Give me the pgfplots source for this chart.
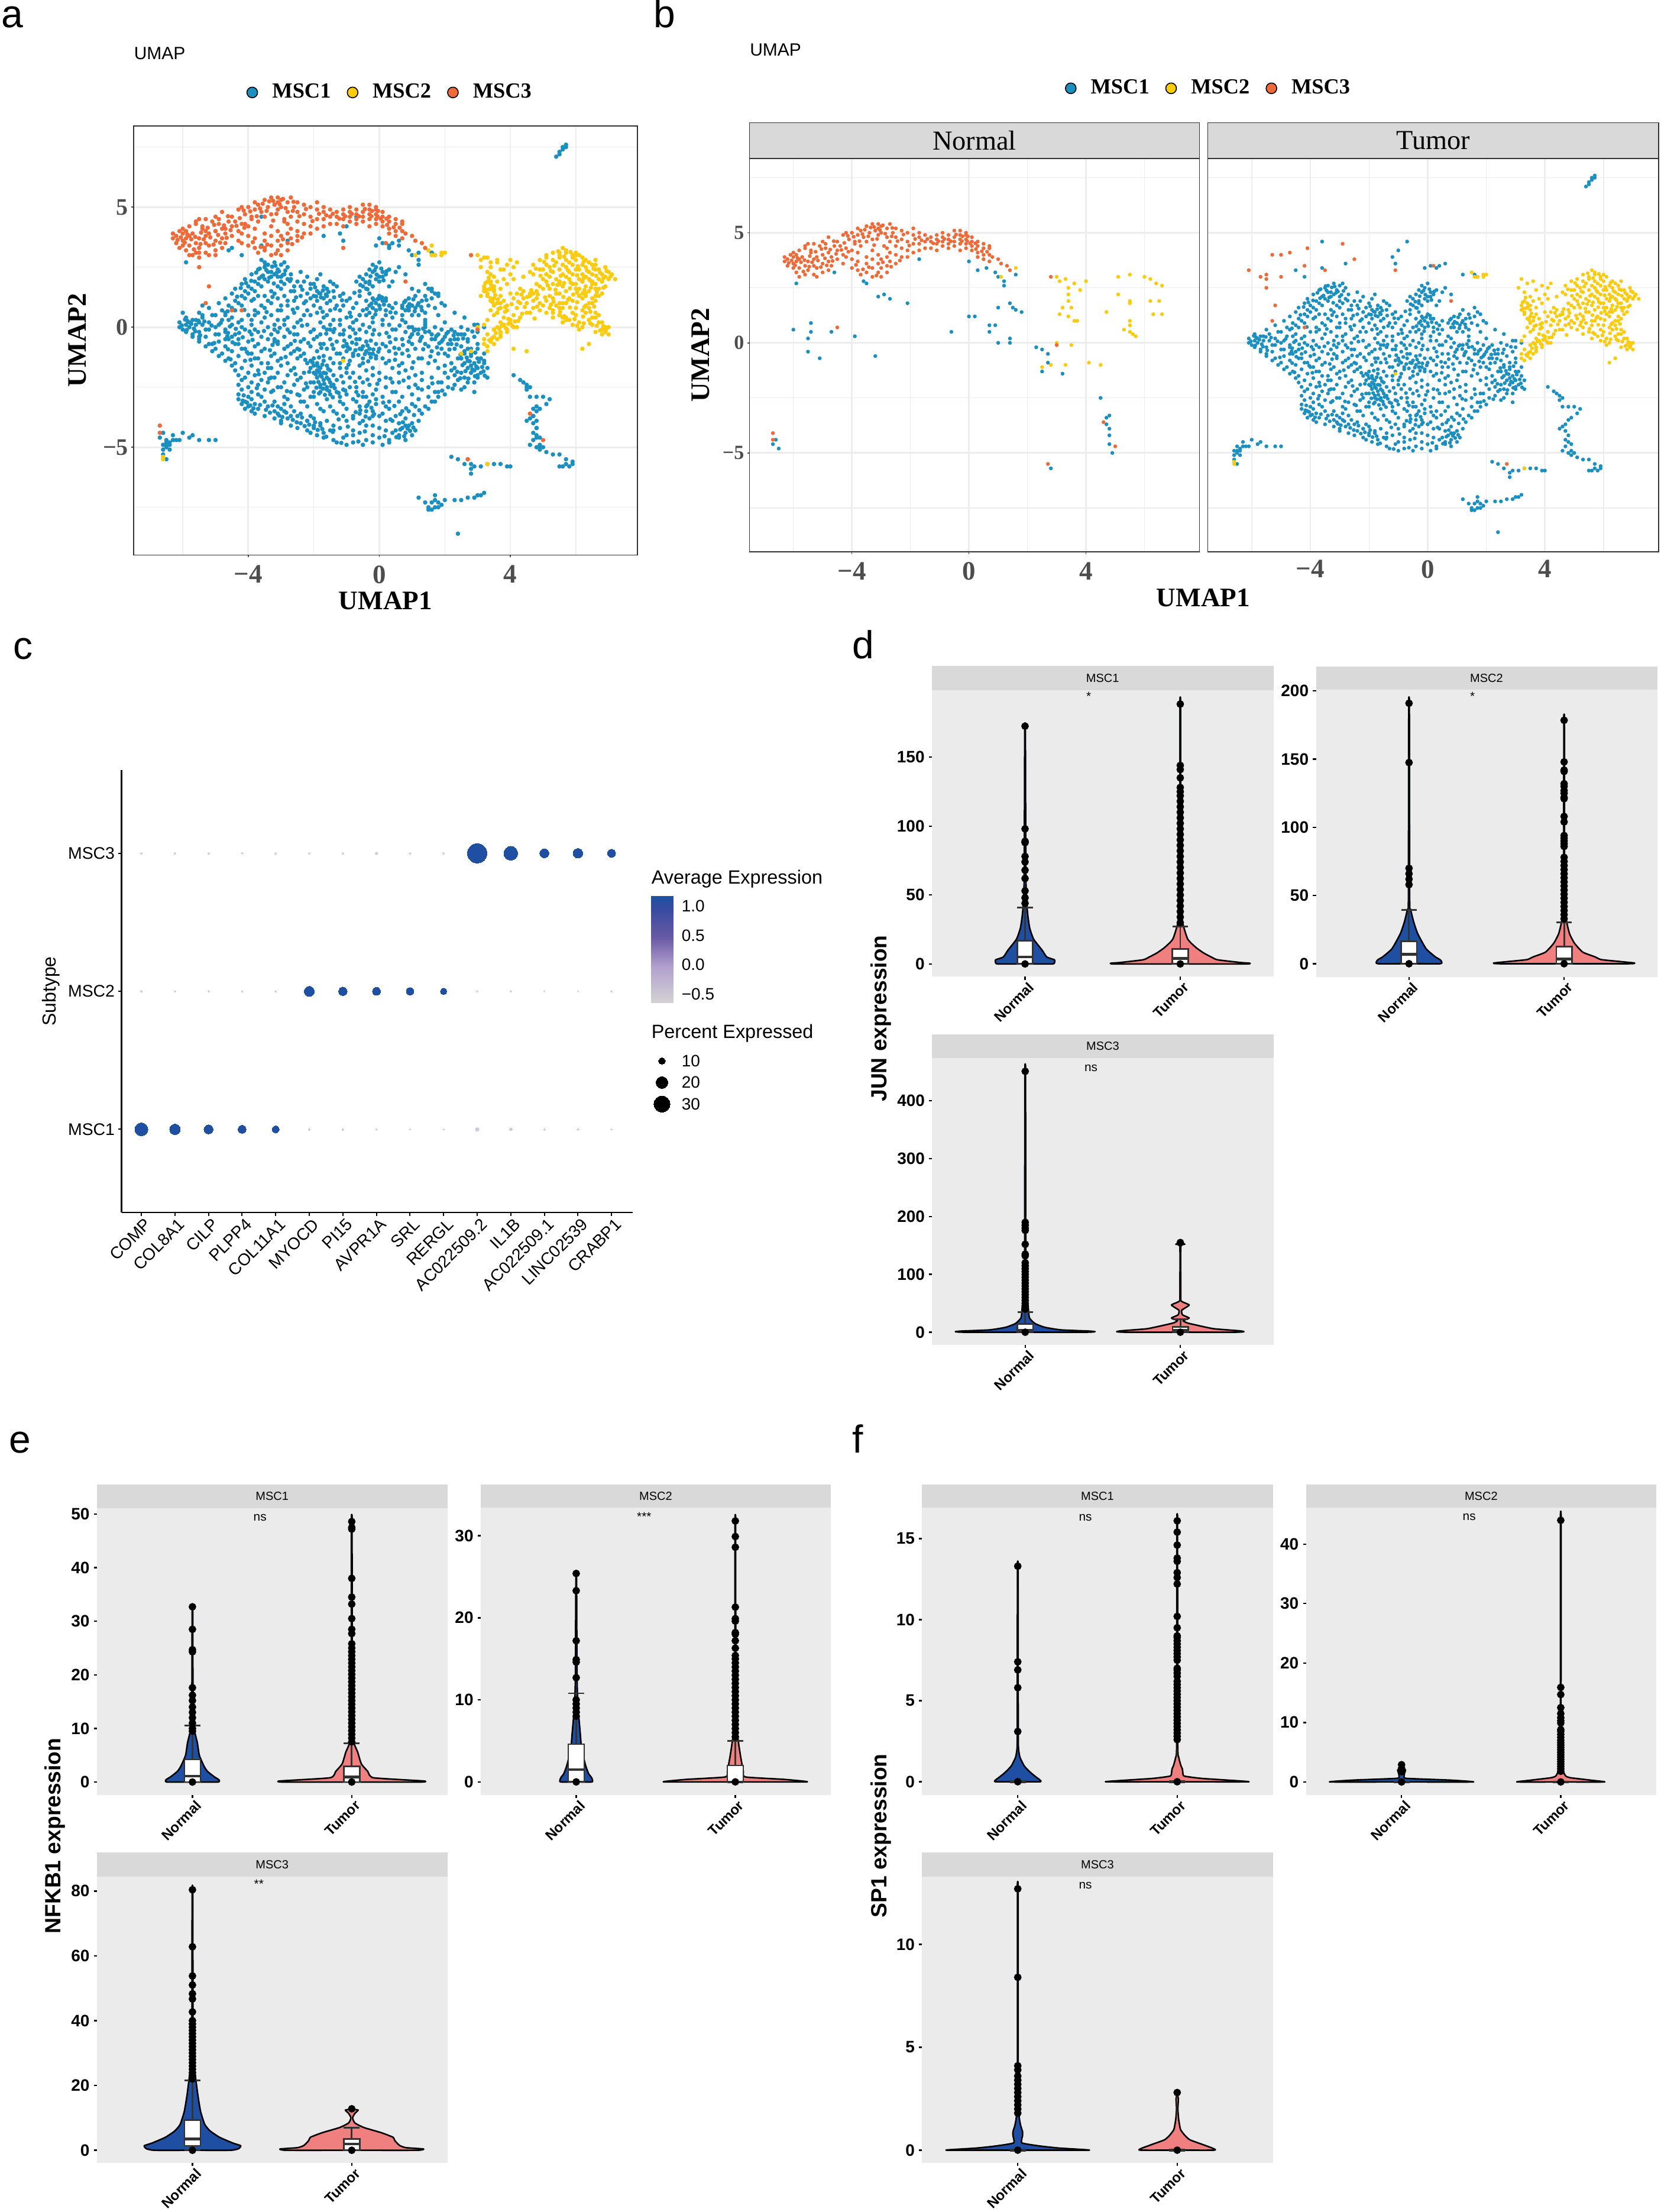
\documentclass[border=0pt]{standalone}
\usepackage{fontspec}
\usepackage{pgfplots}
\pgfplotsset{compat=1.18}
\usepackage{pgfplotstable}
\usepgfplotslibrary{statistics}
\setmainfont{Liberation Sans}
\newfontfamily\tms{Liberation Serif}
\newcommand\fs[1]{\fontsize{#1}{#1}\selectfont}

\definecolor{umB}{HTML}{1B8FC0}
\definecolor{umY}{HTML}{FBCB0F}
\definecolor{umR}{HTML}{EE6A39}
\definecolor{vioB}{HTML}{1F4FA3}
\definecolor{vioR}{HTML}{F08080}
\definecolor{stripc}{HTML}{D9D9D9}
\definecolor{panelc}{HTML}{EBEBEB}
\definecolor{gridc}{HTML}{EDEDED}
\definecolor{darkbox}{HTML}{333333}
\definecolor{tickgrey}{HTML}{4D4D4D}
\definecolor{dotgrey}{HTML}{CBCBDA}

% ---- UMAP points, split by group and by tissue
\pgfplotstableread{
x y
5.5 7.2
5.6 7.4
5.7 7.5
5.7 7.6
5.5 7.3
5.6 7.5
5.4 7.1
-6.6 -5.3
-6.6 -5.1
-6.5 -4.9
-6.4 -4.8
-6.3 -4.7
-6.2 -4.7
-6.1 -4.7
-6.4 -4.9
-6.5 -4.7
-6.3 -4.5
-6.0 -4.4
-5.7 -4.5
-5.5 -4.7
-5.2 -4.7
-5.0 -4.7
-5.8 -4.6
-6.5 -5.5
-6.5 -5.0
-6.6 -4.9
-6.4 -5.1
4.1 -2.0
4.3 -2.2
4.4 -2.3
4.5 -2.4
4.6 -2.5
4.5 -2.6
4.6 -2.9
4.8 -2.9
5.0 -2.9
5.2 -3.0
5.1 -3.2
4.9 -3.4
4.8 -3.5
4.7 -3.7
4.6 -3.8
4.5 -3.9
4.7 -4.0
4.8 -4.2
4.7 -4.4
4.8 -4.5
4.9 -4.6
4.7 -4.7
4.6 -4.9
4.8 -5.0
4.9 -5.1
5.0 -5.0
5.1 -5.2
5.3 -5.3
5.5 -5.3
5.7 -5.5
5.9 -5.6
5.8 -5.8
5.6 -5.8
5.7 -5.7
5.9 -5.7
5.5 -5.8
4.9 -4.9
2.2 -5.4
2.4 -5.5
2.6 -5.7
2.8 -5.9
2.8 -6.1
2.9 -5.8
3.1 -5.8
3.3 -5.7
3.5 -5.7
3.7 -5.7
3.9 -5.8
4.0 -5.8
1.2 -7.1
1.4 -7.3
1.5 -7.6
1.6 -7.6
1.7 -7.5
1.8 -7.3
1.7 -7.2
1.7 -7.0
1.9 -7.4
2.0 -7.2
1.6 -7.3
1.5 -7.5
1.8 -7.5
2.3 -7.2
2.5 -7.2
2.7 -7.1
2.9 -7.1
3.0 -7.0
3.2 -6.9
3.1 -7.0
2.4 -8.6
-0.1 3.4
0.1 3.5
0.3 3.4
0.4 3.5
0.6 3.6
1.2 3.1
1.7 3.0
1.6 3.1
-1.2 3.9
-1.0 4.2
-3.6 4.6
-3.6 3.4
-4.5 3.3
-2.8 3.6
-4.2 3.0
-0.7 4.6
-1.1 3.6
-3.4 2.6
-3.2 2.7
-3.0 2.6
-2.9 2.7
0.0 2.7
-0.2 2.6
-3.7 2.4
-3.5 2.5
-3.3 2.3
-3.1 2.4
-2.8 2.5
-0.3 2.4
-0.1 2.5
0.1 2.3
0.3 2.4
0.6 2.5
-3.9 2.2
-3.6 2.1
-3.4 2.3
-3.2 2.2
-3.0 2.1
-2.7 2.2
-2.4 2.3
-1.8 2.2
-0.6 2.1
-0.4 2.2
-0.2 2.3
0.0 2.1
0.2 2.2
0.5 2.3
0.8 2.2
-4.1 2.0
-3.8 1.9
-3.5 2.0
-3.3 2.1
-3.0 1.9
-2.8 2.0
-2.5 1.9
-2.2 2.1
-1.9 2.0
-1.5 1.9
-0.5 2.0
-0.3 1.9
-0.1 2.0
0.1 2.1
0.4 1.9
-4.2 1.8
-4.0 1.7
-3.7 1.8
-3.4 1.9
-3.1 1.7
-2.9 1.8
-2.6 1.7
-2.3 1.9
-2.0 1.8
-1.7 1.7
-1.4 1.8
-0.7 1.9
-0.5 1.7
-0.3 1.8
0.0 1.9
0.3 1.7
-4.4 1.6
-4.1 1.5
-3.9 1.6
-3.6 1.7
-3.3 1.5
-3.0 1.6
-2.7 1.5
-2.4 1.7
-2.1 1.6
-1.9 1.5
-1.6 1.6
-1.3 1.7
-0.6 1.5
-0.4 1.6
-0.2 1.7
1.2 1.5
1.6 1.6
-4.5 1.4
-4.2 1.3
-4.0 1.4
-3.8 1.5
-3.5 1.3
-3.2 1.4
-2.9 1.3
-2.6 1.5
-2.2 1.4
-2.0 1.3
-1.8 1.4
-1.6 1.3
-1.4 1.5
-1.1 1.4
-0.6 1.3
-0.3 1.4
1.4 1.3
1.7 1.4
-4.7 1.2
-4.4 1.1
-4.1 1.2
-3.7 1.3
-3.4 1.1
-3.1 1.2
-2.8 1.1
-2.4 1.3
-2.1 1.2
-1.9 1.1
-1.7 1.2
-1.5 1.1
-1.2 1.3
-0.9 1.2
-0.4 1.1
-0.2 1.2
0.0 1.3
0.2 1.1
0.9 1.2
1.1 1.3
1.3 1.1
1.6 1.2
1.8 1.3
-4.9 1.0
-4.6 0.9
-4.3 1.0
-3.9 1.1
-3.6 0.9
-3.3 1.0
-3.0 0.9
-2.6 1.1
-2.3 1.0
-2.0 0.9
-1.6 1.0
-1.3 0.9
-1.0 1.1
-0.7 1.0
-0.3 0.9
-0.1 1.0
0.1 1.1
0.3 0.9
0.5 1.0
0.8 1.1
1.0 0.9
1.2 1.0
1.5 0.9
1.9 1.0
-5.2 0.8
-4.8 0.7
-4.5 0.8
-4.2 0.9
-3.8 0.7
-3.5 0.8
-3.1 0.7
-2.8 0.9
-2.5 0.8
-2.2 0.7
-1.8 0.8
-1.5 0.7
-1.1 0.9
-0.8 0.8
-0.5 0.7
-0.2 0.8
0.0 0.9
0.2 0.7
0.4 0.8
0.7 0.9
0.9 0.7
1.1 0.8
1.3 0.7
1.7 0.8
2.0 0.9
-5.5 0.6
-5.0 0.5
-4.7 0.6
-4.4 0.7
-4.0 0.5
-3.7 0.6
-3.3 0.5
-3.0 0.7
-2.6 0.6
-2.3 0.5
-1.9 0.6
-1.6 0.5
-1.2 0.7
-0.9 0.6
-0.6 0.5
-0.3 0.6
-0.1 0.7
0.2 0.5
0.5 0.6
0.8 0.7
1.0 0.5
1.4 0.6
1.8 0.5
2.3 0.6
-5.9 0.4
-5.7 0.3
-5.4 0.4
-5.1 0.5
-4.8 0.3
-4.5 0.4
-4.2 0.3
-3.8 0.5
-3.5 0.4
-3.1 0.3
-2.8 0.4
-2.4 0.3
-2.1 0.5
-1.7 0.4
-1.4 0.3
-1.0 0.4
-0.7 0.3
-0.4 0.5
-0.2 0.4
0.1 0.3
0.4 0.4
0.7 0.3
1.2 0.5
2.6 0.4
-6.1 0.2
-5.9 0.1
-5.8 0.2
-5.6 0.3
-5.4 0.1
-5.2 0.2
-4.9 0.1
-4.6 0.3
-4.3 0.2
-3.9 0.1
-3.6 0.2
-3.2 0.1
-2.9 0.3
-2.5 0.2
-2.2 0.1
-1.8 0.2
-1.5 0.1
-1.2 0.3
-0.8 0.2
-0.5 0.1
-0.2 0.2
0.3 0.1
0.8 0.2
1.4 0.3
2.0 0.2
2.9 0.1
-6.1 0.0
-6.0 -0.1
-5.8 0.0
-5.6 0.1
-5.3 -0.1
-5.0 0.0
-4.7 -0.1
-4.5 0.1
-4.2 0.0
-3.8 -0.1
-3.4 0.0
-3.2 -0.1
-2.9 0.1
-2.6 0.0
-2.0 -0.1
-1.7 0.0
-1.5 -0.1
-1.2 0.1
-0.9 0.0
-0.6 -0.1
-0.3 0.0
0.1 0.1
0.5 -0.1
0.9 0.0
1.1 -0.1
1.4 0.1
1.7 0.0
2.2 -0.1
2.5 0.0
3.0 0.1
3.2 0.0
-5.9 -0.2
-5.7 -0.3
-5.5 -0.2
-5.2 -0.1
-4.9 -0.3
-4.7 -0.2
-4.4 -0.3
-4.1 -0.1
-3.7 -0.2
-3.3 -0.3
-3.1 -0.2
-2.8 -0.1
-2.5 -0.3
-2.1 -0.2
-1.8 -0.3
-1.6 -0.1
-1.4 -0.2
-1.1 -0.3
-0.8 -0.1
-0.4 -0.2
0.0 -0.3
0.4 -0.1
0.8 -0.2
1.0 -0.3
1.2 -0.1
1.4 -0.2
1.6 -0.3
1.9 -0.1
2.1 -0.2
2.4 -0.3
2.7 -0.1
3.0 -0.2
-5.7 -0.4
-5.5 -0.5
-5.3 -0.4
-5.0 -0.3
-4.7 -0.5
-4.5 -0.4
-4.3 -0.5
-3.9 -0.3
-3.6 -0.4
-3.2 -0.5
-2.9 -0.4
-2.6 -0.3
-2.3 -0.5
-1.9 -0.4
-1.5 -0.5
-1.2 -0.3
-0.9 -0.4
-0.6 -0.5
-0.2 -0.3
0.3 -0.4
0.7 -0.5
1.0 -0.3
1.3 -0.4
1.6 -0.5
1.8 -0.3
2.0 -0.4
2.3 -0.5
2.6 -0.3
2.9 -0.4
-5.5 -0.6
-5.2 -0.7
-4.9 -0.6
-4.6 -0.5
-4.3 -0.7
-4.0 -0.6
-3.7 -0.7
-3.4 -0.5
-3.1 -0.6
-2.7 -0.7
-2.4 -0.6
-2.0 -0.5
-1.7 -0.7
-1.3 -0.6
-1.0 -0.7
-0.7 -0.5
-0.4 -0.6
0.1 -0.7
0.5 -0.5
0.9 -0.6
1.4 -0.7
1.7 -0.5
1.9 -0.6
2.1 -0.7
2.4 -0.5
2.7 -0.6
3.0 -0.7
-5.3 -0.8
-5.0 -0.9
-4.7 -0.8
-4.4 -0.7
-4.1 -0.9
-3.8 -0.8
-3.5 -0.9
-3.1 -0.7
-2.8 -0.8
-2.5 -0.9
-2.1 -0.8
-1.8 -0.7
-1.4 -0.9
-1.1 -0.8
-0.9 -0.9
-0.7 -0.7
-0.5 -0.8
-0.3 -0.9
-0.1 -0.7
0.2 -0.8
0.6 -0.9
1.0 -0.7
1.5 -0.8
1.9 -0.9
2.2 -0.7
2.5 -0.8
2.8 -0.9
-5.1 -1.0
-4.8 -1.1
-4.5 -1.0
-4.2 -0.9
-3.9 -1.1
-3.6 -1.0
-3.2 -1.1
-2.9 -0.9
-2.6 -1.0
-2.3 -1.1
-1.9 -1.0
-1.6 -0.9
-1.2 -1.1
-1.0 -1.0
-0.8 -1.1
-0.6 -0.9
-0.4 -1.0
-0.2 -1.1
0.0 -0.9
0.3 -1.0
0.7 -1.1
1.1 -0.9
1.6 -1.0
2.0 -1.1
2.3 -0.9
2.6 -1.0
2.8 -1.1
3.0 -0.9
-4.9 -1.2
-4.6 -1.3
-4.3 -1.2
-4.0 -1.1
-3.7 -1.3
-3.3 -1.2
-3.0 -1.3
-2.7 -1.1
-2.4 -1.2
-2.0 -1.3
-1.7 -1.2
-1.3 -1.1
-1.1 -1.3
-0.8 -1.2
-0.5 -1.3
-0.3 -1.1
-0.1 -1.2
0.1 -1.3
0.5 -1.1
0.9 -1.2
1.3 -1.3
1.8 -1.1
2.1 -1.2
2.4 -1.3
2.6 -1.1
2.8 -1.2
3.0 -1.3
3.2 -1.1
-4.7 -1.4
-4.4 -1.5
-4.1 -1.4
-3.8 -1.3
-3.4 -1.5
-3.1 -1.4
-2.8 -1.5
-2.5 -1.3
-2.1 -1.4
-1.9 -1.5
-1.7 -1.4
-1.5 -1.3
-1.2 -1.5
-0.9 -1.4
-0.5 -1.5
-0.1 -1.3
0.3 -1.4
0.7 -1.5
1.2 -1.3
1.7 -1.4
2.2 -1.5
2.5 -1.3
2.7 -1.4
2.9 -1.5
3.1 -1.3
-4.5 -1.6
-4.2 -1.7
-3.9 -1.6
-3.6 -1.5
-3.3 -1.7
-3.0 -1.6
-2.6 -1.7
-2.2 -1.5
-2.0 -1.6
-1.8 -1.7
-1.6 -1.6
-1.4 -1.5
-1.0 -1.7
-0.6 -1.6
-0.2 -1.7
0.2 -1.5
0.6 -1.6
1.0 -1.7
1.5 -1.5
2.0 -1.6
2.3 -1.7
2.6 -1.5
2.8 -1.6
3.0 -1.7
3.2 -1.5
-4.4 -1.8
-4.0 -1.9
-3.7 -1.8
-3.4 -1.7
-3.1 -1.9
-2.7 -1.8
-2.3 -1.9
-2.1 -1.7
-1.9 -1.8
-1.7 -1.9
-1.5 -1.8
-1.2 -1.7
-0.8 -1.9
-0.4 -1.8
0.0 -1.9
0.4 -1.7
0.8 -1.8
1.3 -1.9
1.8 -1.7
2.2 -1.8
2.5 -1.9
2.7 -1.7
2.9 -1.8
3.1 -1.9
3.3 -1.7
-4.3 -2.0
-4.1 -2.1
-3.8 -2.0
-3.5 -1.9
-3.2 -2.1
-2.8 -2.0
-2.4 -2.1
-2.0 -1.9
-1.8 -2.0
-1.6 -2.1
-1.4 -2.0
-1.0 -1.9
-0.6 -2.1
-0.2 -2.0
0.2 -2.1
0.6 -1.9
1.1 -2.0
1.6 -2.1
2.0 -1.9
2.3 -2.0
2.6 -2.1
2.8 -1.9
3.0 -2.0
3.3 -2.1
-4.2 -2.2
-3.9 -2.3
-3.6 -2.2
-3.3 -2.1
-2.9 -2.3
-2.5 -2.2
-2.1 -2.3
-1.9 -2.1
-1.7 -2.2
-1.5 -2.3
-1.3 -2.2
-0.9 -2.1
-0.5 -2.3
0.0 -2.2
0.4 -2.3
0.9 -2.1
1.3 -2.2
1.8 -2.3
2.1 -2.1
2.4 -2.2
2.7 -2.3
3.0 -2.1
-4.3 -2.4
-4.0 -2.5
-3.7 -2.4
-3.4 -2.3
-3.0 -2.5
-2.6 -2.4
-2.2 -2.5
-2.0 -2.3
-1.8 -2.4
-1.6 -2.5
-1.4 -2.4
-1.1 -2.3
-0.7 -2.5
-0.3 -2.4
0.2 -2.5
0.6 -2.3
1.1 -2.4
1.5 -2.5
1.9 -2.3
2.3 -2.4
2.6 -2.5
2.9 -2.3
-4.2 -2.6
-3.9 -2.7
-3.5 -2.6
-3.1 -2.5
-2.7 -2.7
-2.3 -2.6
-2.0 -2.7
-1.8 -2.5
-1.6 -2.6
-1.3 -2.7
-1.1 -2.6
-0.9 -2.5
-0.5 -2.7
-0.1 -2.6
0.4 -2.7
0.9 -2.5
1.3 -2.6
1.7 -2.7
2.1 -2.5
2.5 -2.6
2.9 -2.7
-4.3 -2.8
-4.0 -2.9
-3.7 -2.8
-3.3 -2.7
-2.9 -2.9
-2.5 -2.8
-2.1 -2.9
-1.8 -2.7
-1.5 -2.8
-1.2 -2.9
-1.0 -2.8
-0.7 -2.7
-0.4 -2.9
-0.2 -2.8
0.1 -2.9
0.5 -2.7
1.0 -2.8
1.5 -2.9
1.8 -2.7
2.0 -2.8
-4.3 -3.0
-4.1 -3.1
-3.9 -3.0
-3.6 -2.9
-3.2 -3.1
-2.8 -3.0
-2.4 -3.1
-2.0 -2.9
-1.6 -3.0
-1.2 -3.1
-0.8 -3.0
-0.5 -2.9
-0.3 -3.1
-0.1 -3.0
0.3 -3.1
0.7 -2.9
1.2 -3.0
1.6 -3.1
1.8 -2.9
-4.2 -3.2
-4.0 -3.3
-3.8 -3.2
-3.5 -3.1
-3.1 -3.3
-2.9 -3.2
-2.7 -3.3
-2.3 -3.1
-1.9 -3.2
-1.5 -3.3
-1.1 -3.2
-0.7 -3.1
-0.4 -3.3
-0.1 -3.2
0.2 -3.3
0.6 -3.1
1.0 -3.2
1.4 -3.3
1.7 -3.1
-4.1 -3.4
-3.9 -3.5
-3.7 -3.4
-3.4 -3.3
-3.2 -3.5
-3.0 -3.4
-2.6 -3.5
-2.2 -3.3
-1.8 -3.4
-1.4 -3.5
-1.0 -3.4
-0.6 -3.3
-0.2 -3.5
0.3 -3.4
0.7 -3.5
1.1 -3.3
1.5 -3.4
-3.8 -3.6
-3.5 -3.7
-3.1 -3.6
-2.9 -3.5
-2.7 -3.7
-2.4 -3.6
-2.1 -3.7
-1.7 -3.5
-1.3 -3.6
-0.8 -3.7
-0.6 -3.6
-0.4 -3.5
-0.2 -3.7
0.1 -3.6
0.5 -3.7
0.9 -3.5
1.3 -3.6
-3.2 -3.8
-3.0 -3.9
-2.8 -3.8
-2.5 -3.7
-2.2 -3.9
-2.0 -3.8
-1.6 -3.9
-1.1 -3.7
-0.8 -3.8
-0.5 -3.9
-0.3 -3.8
0.0 -3.7
0.4 -3.9
0.8 -3.8
1.2 -3.9
-3.0 -4.0
-2.7 -4.1
-2.4 -4.0
-2.2 -3.9
-2.0 -4.1
-1.8 -4.0
-1.4 -4.1
-1.0 -3.9
-0.6 -4.0
-0.2 -4.1
0.2 -3.9
0.6 -4.0
0.8 -4.1
1.0 -4.0
-2.5 -4.2
-2.2 -4.3
-2.0 -4.2
-1.8 -4.1
-1.5 -4.3
-1.2 -4.2
-0.8 -4.3
-0.4 -4.1
0.0 -4.2
0.5 -4.3
0.7 -4.2
0.9 -4.1
1.1 -4.3
-2.1 -4.4
-1.9 -4.5
-1.7 -4.4
-1.4 -4.3
-1.0 -4.5
-0.6 -4.4
-0.2 -4.5
0.2 -4.3
0.4 -4.4
0.6 -4.5
0.8 -4.4
1.0 -4.5
-1.7 -4.6
-1.4 -4.7
-1.1 -4.6
-0.8 -4.5
-0.4 -4.7
0.0 -4.6
0.3 -4.7
0.6 -4.6
0.8 -4.7
-1.3 -4.8
-1.0 -4.9
-0.8 -4.8
-0.5 -4.9
-0.2 -4.8
0.1 -4.9
0.3 -4.8
-3.45 2.38
-3.27 2.52
-3.13 2.27
-3.55 2.15
-3.36 2.06
-3.06 2.33
-2.94 2.18
-3.65 2.44
-3.76 2.27
-2.87 2.36
-3.17 2.56
-3.48 2.58
-0.14 2.37
0.06 2.44
0.22 2.33
-0.27 2.12
-0.08 2.19
0.13 1.95
-0.42 1.87
-0.58 1.76
-0.36 1.58
-4.07 1.84
-4.23 1.63
-3.91 1.93
-3.67 2.03
-3.22 1.82
-2.73 1.92
-2.35 1.56
-1.96 1.66
-1.84 1.42
-1.72 1.53
-1.63 1.36
-1.93 1.28
-1.55 1.47
-1.78 1.24
-1.38 1.24
-4.34 1.27
-3.83 1.17
-3.26 1.26
-2.54 1.24
-2.24 1.08
-1.14 1.12
-0.76 1.43
-0.17 1.13
-0.05 1.17
0.14 0.94
0.08 1.24
-0.24 0.98
0.02 0.76
0.76 1.04
0.87 0.86
1.04 1.16
1.17 0.92
1.08 0.66
0.92 0.96
1.28 0.84
1.44 1.13
-4.63 0.66
-4.12 0.72
-3.44 0.63
-2.64 0.73
-1.73 0.64
-1.35 0.77
-0.87 0.44
-0.38 0.76
-0.12 0.53
0.34 0.62
-5.86 0.26
-5.74 0.14
-5.93 0.32
-6.03 0.07
-5.66 -0.06
-5.88 -0.12
-5.52 0.27
-5.34 0.24
-5.47 -0.34
-5.62 -0.17
-5.12 0.07
-4.84 0.18
-4.62 -0.24
-4.56 0.03
-4.38 -0.07
-4.64 -0.38
-4.28 -0.24
-4.48 -0.63
-4.17 -0.42
-3.96 -0.18
-3.52 -0.16
-3.04 -0.03
-2.73 -0.22
-2.36 0.06
-1.62 -0.27
-1.37 -0.08
-1.08 -0.13
-0.73 -0.26
-0.16 -0.12
0.22 -0.24
0.62 0.07
1.18 -0.28
1.27 -0.46
1.06 -0.14
1.34 -0.06
0.94 -0.42
1.52 -0.18
1.74 -0.37
1.94 -0.52
1.83 -0.67
2.05 -0.27
2.17 -0.53
2.27 -0.34
2.36 -0.72
2.56 -0.47
2.84 -0.18
-5.04 -0.66
-3.87 -0.53
-3.26 -0.74
-2.58 -0.57
-2.17 -0.66
-1.44 -0.73
-1.07 -0.56
-0.83 -0.64
-0.26 -0.56
0.33 -0.63
0.72 -0.74
1.24 -0.57
-4.62 -0.92
-4.04 -1.04
-3.34 -0.96
-2.44 -0.94
-1.77 -0.87
-0.97 -0.82
-0.73 -0.96
-0.54 -0.92
-0.36 -0.76
-0.18 -0.93
-0.64 -1.16
-0.44 -1.12
-0.26 -1.26
-0.03 -1.02
0.46 -0.86
0.86 -0.96
1.34 -0.92
1.76 -0.84
2.14 -0.93
2.48 -1.14
2.67 -1.27
2.93 -1.06
2.76 -1.42
2.54 -1.58
2.96 -1.64
2.84 -1.76
2.63 -1.83
3.04 -1.44
3.14 -1.66
2.38 -1.86
3.18 -1.84
2.92 -2.04
2.72 -2.14
3.22 -2.02
2.47 -2.13
-4.54 -1.34
-3.93 -1.36
-2.86 -1.24
-2.26 -1.36
-1.84 -1.26
-0.94 -1.56
-0.34 -1.42
0.48 -1.36
1.04 -1.46
1.56 -1.22
-2.04 -1.47
-1.88 -1.62
-1.94 -1.96
-1.74 -1.56
-1.56 -1.74
-1.83 -1.87
-1.63 -1.92
-2.14 -1.86
-1.76 -2.06
-1.54 -2.18
-1.86 -2.28
-1.68 -2.36
-1.47 -2.46
-1.92 -2.52
-1.72 -2.56
-1.53 -2.66
-1.36 -2.54
-1.84 -2.76
-1.66 -2.82
-1.42 -2.92
-1.24 -2.74
-1.04 -2.64
-4.14 -2.84
-4.17 -3.06
-4.04 -3.14
-3.94 -3.26
-3.84 -3.38
-3.64 -3.24
-3.46 -3.44
-3.34 -3.56
-3.26 -3.26
-3.06 -3.68
-2.96 -3.74
-2.84 -3.56
-2.64 -3.86
-2.52 -3.96
-2.36 -3.76
-2.28 -4.12
-2.14 -4.06
-1.96 -3.96
-1.88 -4.28
-1.74 -4.24
-1.62 -4.56
-3.74 -2.54
-3.24 -2.64
-2.82 -2.66
-2.44 -2.84
-2.24 -2.34
-3.36 -2.14
-3.68 -1.96
-2.56 -1.96
-1.16 -2.04
-0.74 -2.28
-0.36 -2.18
-0.06 -2.36
0.34 -2.14
0.74 -2.22
1.18 -2.54
1.62 -2.34
1.92 -2.64
2.24 -2.56
-0.64 -2.84
-0.36 -3.24
-0.24 -3.36
-0.58 -3.46
-0.16 -3.62
-0.72 -3.54
-0.42 -3.72
0.12 -3.14
0.46 -3.28
0.82 -3.38
1.22 -3.46
0.64 -3.62
1.06 -3.66
0.34 -3.84
0.72 -3.96
0.86 -4.22
0.94 -4.32
0.64 -4.26
0.76 -4.54
0.52 -4.58
1.04 -4.18
-1.24 -3.84
-1.42 -4.36
-0.96 -4.14
-0.44 -4.34
0.16 -4.54
-0.64 -4.76
-1.16 -4.82
}\tabTa
\pgfplotstableread{
x y
-6.0 0.6
-5.5 0.2
-5.4 0.9
-5.4 0.5
-5.5 -0.4
-5.1 -0.7
-4.7 0.5
-3.9 0.3
-3.2 -0.6
-4.6 3.2
-5.9 2.7
-3.6 2.8
-3.5 2.7
-3.1 2.1
-2.9 2.2
-2.7 2.0
-2.1 1.8
-1.7 3.8
-0.6 0.5
0.0 1.2
0.2 1.2
0.0 3.7
0.3 3.3
0.6 3.4
0.9 3.2
1.0 3.0
1.2 2.8
1.2 2.6
1.6 3.1
0.7 0.8
0.9 0.8
0.7 0.5
1.0 0.0
1.4 0.2
1.4 0.0
1.0 1.6
1.4 1.8
1.5 1.6
1.6 1.5
1.8 1.4
2.3 -0.2
2.5 -0.3
2.7 -0.5
2.7 -0.9
2.5 -1.3
3.2 -1.4
4.5 -2.5
4.7 -3.4
4.7 -3.7
4.8 -3.3
4.8 -3.9
4.8 -4.2
4.8 -4.6
4.9 -5.0
2.8 -5.7
-6.7 -4.6
-6.6 -4.4
-6.5 -4.8
}\tabNa
\pgfplotstableread{
x y
5.6 3.3
5.7 3.2
5.3 3.1
5.5 3.0
5.7 3.1
5.9 3.0
6.0 3.1
3.2 2.9
3.6 2.8
5.1 2.9
5.3 2.8
5.5 2.9
5.7 2.8
5.9 2.9
6.1 3.0
6.3 2.8
3.4 2.7
3.9 2.6
4.2 2.7
4.9 2.8
5.1 2.6
5.4 2.7
5.6 2.6
5.8 2.7
6.0 2.8
6.2 2.6
6.4 2.7
6.6 2.8
3.1 2.5
3.7 2.4
4.1 2.5
4.7 2.6
5.0 2.4
5.2 2.5
5.5 2.4
5.7 2.5
5.9 2.6
6.1 2.4
6.3 2.5
6.5 2.6
6.7 2.4
6.9 2.5
3.3 2.3
4.0 2.2
4.6 2.3
4.9 2.4
5.1 2.2
5.3 2.3
5.6 2.2
5.8 2.3
6.0 2.4
6.2 2.2
6.4 2.3
6.6 2.4
6.8 2.2
7.0 2.3
3.5 2.1
3.8 2.0
4.4 2.1
4.7 2.2
5.0 2.0
5.2 2.1
5.4 2.0
5.7 2.1
5.9 2.2
6.1 2.0
6.3 2.1
6.5 2.2
6.7 2.0
6.9 2.1
7.1 2.2
7.2 2.0
3.3 1.9
3.4 1.8
3.6 1.9
4.1 2.0
4.8 1.8
5.1 1.9
5.3 1.8
5.5 1.9
5.8 2.0
6.0 1.8
6.2 1.9
6.4 2.0
6.6 1.8
6.8 1.9
7.0 2.0
3.2 1.7
3.4 1.6
3.5 1.7
3.9 1.8
4.3 1.6
4.9 1.7
5.2 1.6
5.6 1.7
5.9 1.8
6.1 1.6
6.3 1.7
6.5 1.8
6.7 1.6
6.9 1.7
3.2 1.5
3.3 1.4
3.5 1.5
3.7 1.6
4.0 1.4
4.4 1.5
4.6 1.4
4.8 1.5
5.0 1.6
5.4 1.4
5.7 1.5
6.0 1.6
6.2 1.4
6.4 1.5
6.6 1.6
6.8 1.4
3.3 1.3
3.5 1.2
3.7 1.3
4.2 1.4
4.4 1.2
4.6 1.3
4.8 1.2
5.2 1.3
5.5 1.4
5.8 1.2
6.1 1.3
6.3 1.4
6.5 1.2
6.7 1.3
3.4 1.1
3.6 1.0
3.8 1.1
4.1 1.2
4.5 1.0
4.7 1.1
4.9 1.0
5.1 1.1
5.3 1.2
5.6 1.0
5.9 1.1
6.2 1.2
6.4 1.0
6.6 1.1
3.5 0.9
3.7 0.8
3.9 0.9
4.3 1.0
4.7 0.8
5.0 0.9
5.2 0.8
5.4 0.9
5.7 1.0
6.0 0.8
6.3 0.9
6.5 1.0
3.4 0.7
3.6 0.6
3.9 0.7
4.2 0.8
4.6 0.6
4.9 0.7
5.1 0.6
5.3 0.7
5.6 0.8
5.9 0.6
6.2 0.7
6.4 0.8
6.6 0.6
3.5 0.5
3.8 0.4
4.1 0.5
4.5 0.6
5.3 0.4
5.5 0.5
5.7 0.4
6.0 0.5
6.3 0.6
6.5 0.4
6.7 0.5
3.3 0.3
3.7 0.2
4.0 0.3
4.3 0.4
5.6 0.2
5.8 0.3
6.1 0.2
6.4 0.3
6.6 0.4
6.8 0.2
3.2 0.1
3.6 0.0
3.8 0.1
4.0 0.2
4.2 0.0
5.9 0.1
6.2 0.0
6.5 0.1
6.7 0.2
6.9 0.0
3.5 -0.1
3.7 -0.2
3.9 -0.1
4.1 0.0
6.1 -0.1
6.6 -0.2
6.8 -0.1
7.0 0.0
3.3 -0.3
3.5 -0.4
3.7 -0.3
3.9 -0.2
6.8 -0.3
6.9 -0.2
7.0 -0.3
3.2 -0.5
3.4 -0.6
3.6 -0.5
3.7 -0.4
3.2 -0.7
3.3 -0.8
3.5 -0.7
6.4 -0.7
6.2 -0.9
5.46 3.16
5.84 3.13
5.64 2.94
6.24 2.73
6.06 2.54
5.34 2.56
5.76 2.37
5.54 2.14
5.24 2.34
4.92 2.14
5.03 2.72
4.78 2.44
6.34 2.36
6.54 2.44
6.74 2.27
6.94 2.34
7.06 2.12
6.84 2.04
6.62 2.14
6.44 1.94
6.24 2.04
6.04 2.16
5.84 1.86
5.64 1.84
5.44 1.76
5.14 1.74
5.38 1.56
5.82 1.62
6.04 1.44
6.26 1.54
6.46 1.64
6.64 1.46
6.84 1.64
5.92 1.36
5.62 1.26
5.32 1.06
5.06 1.24
4.84 1.36
4.52 1.26
4.34 1.36
4.64 1.54
5.76 1.14
6.04 1.04
6.26 0.84
6.44 0.64
6.56 0.86
5.82 0.82
5.52 0.64
5.24 0.94
4.82 0.86
5.64 0.46
5.96 0.34
6.22 0.44
6.44 0.16
6.64 0.06
6.84 0.04
6.74 -0.14
6.92 -0.12
6.24 0.16
6.04 0.06
3.34 2.06
3.24 1.84
3.42 1.64
3.36 1.58
3.26 1.56
3.54 1.34
3.62 1.16
3.46 1.04
3.64 0.76
3.84 0.64
4.14 0.24
3.94 0.14
4.06 0.06
3.86 -0.04
3.74 0.06
3.94 0.34
4.24 0.26
3.66 -0.06
3.56 -0.24
3.44 -0.46
3.36 -0.54
3.84 0.84
4.04 0.96
4.24 1.06
4.44 0.84
4.36 0.56
4.74 0.36
1.5 3.2
1.7 3.0
1.9 3.0
2.0 3.1
1.6 3.0
1.9 3.1
-1.1 -1.4
3.3 -5.7
-6.6 -5.4
-6.6 -5.5
}\tabTb
\pgfplotstableread{
x y
3.0 3.0
3.1 2.8
3.3 2.9
3.6 2.7
4.0 2.8
3.4 2.5
3.8 2.4
3.4 2.2
3.4 1.9
3.2 1.6
3.5 1.6
3.1 1.3
3.4 1.2
3.6 1.0
3.7 1.0
5.1 3.0
5.5 3.1
6.0 3.0
6.2 2.9
6.4 2.7
6.6 2.6
5.1 2.2
5.5 1.9
5.5 1.8
4.7 1.4
6.2 1.9
6.5 1.9
6.3 1.3
6.6 1.3
5.5 1.0
5.5 0.8
5.3 0.6
5.5 0.5
5.6 0.4
5.7 0.3
3.0 0.0
3.5 -0.1
2.5 -1.1
2.8 -1.0
3.3 -1.0
4.1 -0.9
4.5 -1.0
1.1 3.0
1.6 3.4
}\tabNb
\pgfplotstableread{
x y
-6.1 3.3
-5.7 3.0
-5.5 3.1
-5.5 2.9
-5.5 2.5
-5.0 3.0
-5.3 4.0
-5.0 4.0
-4.7 4.1
-4.1 4.3
-4.2 3.5
-3.5 3.3
-2.9 4.5
-2.5 3.8
-1.1 3.3
0.2 3.5
-5.2 1.7
-4.2 0.7
-5.3 1.0
0.8 1.9
2.7 -5.5
}\tabTc
\pgfplotstableread{
x y
-6.3 3.7
-6.3 3.9
-6.2 3.5
-6.2 3.8
-6.1 4.0
-6.0 3.4
-6.0 3.6
-6.0 3.9
-6.0 4.1
-5.9 3.2
-5.9 3.7
-5.9 4.0
-5.8 3.0
-5.8 3.4
-5.8 3.8
-5.8 4.2
-5.6 3.1
-5.6 3.5
-5.7 3.9
-5.6 4.3
-5.6 4.4
-5.5 3.3
-5.5 3.7
-5.4 4.1
-5.5 4.5
-5.3 3.1
-5.3 3.5
-5.3 3.8
-5.4 4.2
-5.3 4.5
-5.2 3.0
-5.2 3.4
-5.2 3.9
-5.1 4.4
-5.0 3.2
-5.0 3.6
-5.0 4.0
-4.9 4.3
-5.0 4.6
-4.8 3.3
-4.8 3.7
-4.8 4.1
-4.9 4.5
-4.8 4.8
-4.7 3.5
-4.7 3.9
-4.6 4.4
-4.5 3.8
-4.5 4.2
-4.5 4.6
-4.3 3.6
-4.3 4.0
-4.4 4.4
-4.3 4.9
-4.2 3.9
-4.2 4.3
-4.1 4.7
-4.2 5.0
-4.0 3.4
-4.0 3.8
-4.0 4.2
-3.9 4.6
-4.0 5.0
-3.8 3.3
-3.8 3.7
-3.8 4.1
-3.9 4.5
-3.8 4.9
-3.8 5.2
-3.7 3.1
-3.7 4.4
-3.6 4.8
-3.7 5.1
-3.5 3.2
-3.5 3.6
-3.5 3.9
-3.5 4.6
-3.4 5.0
-3.5 5.3
-3.3 3.0
-3.3 3.4
-3.3 3.8
-3.3 4.2
-3.3 4.7
-3.2 5.1
-3.3 5.4
-3.1 3.2
-3.1 3.6
-3.1 4.0
-3.1 4.9
-3.1 5.2
-3.1 5.4
-3.0 3.0
-3.0 3.4
-3.0 3.8
-2.9 4.4
-3.0 5.0
-3.0 5.3
-2.8 3.2
-2.8 3.5
-2.8 3.9
-2.8 4.3
-2.8 4.8
-2.8 5.2
-2.7 3.7
-2.7 4.1
-2.7 4.6
-2.6 5.0
-2.7 5.4
-2.5 3.6
-2.5 4.0
-2.5 4.4
-2.5 4.8
-2.5 5.2
-2.3 3.9
-2.3 4.3
-2.3 4.7
-2.3 5.1
-2.1 3.9
-2.1 4.2
-2.1 4.6
-2.1 5.0
-1.9 4.1
-1.9 4.5
-1.9 4.9
-1.9 5.2
-1.7 4.2
-1.7 4.5
-1.7 4.8
-1.7 5.0
-1.5 4.3
-1.5 4.6
-1.5 4.9
-1.3 4.3
-1.3 4.6
-1.3 4.8
-1.1 4.2
-1.1 4.5
-1.1 4.7
-1.1 4.9
-0.9 4.4
-0.9 4.6
-0.9 4.8
-0.9 5.0
-0.7 4.3
-0.7 4.5
-0.7 4.7
-0.7 4.9
-0.5 4.4
-0.5 4.6
-0.5 4.8
-0.5 5.1
-0.3 4.2
-0.3 4.5
-0.3 4.7
-0.3 4.9
-0.3 5.1
-0.1 4.3
-0.1 4.5
-0.1 4.7
-0.1 4.9
-0.1 5.0
0.1 4.2
0.1 4.4
0.1 4.6
0.1 4.8
0.3 3.9
0.3 4.1
0.3 4.4
0.3 4.6
0.5 3.8
0.5 4.0
0.5 4.3
0.5 4.5
0.7 3.7
0.7 4.0
0.7 4.3
0.7 4.4
0.8 3.9
1.0 3.8
1.1 3.6
1.3 3.5
1.4 3.3
-6.16 3.63
-6.06 3.74
-5.94 3.52
-5.86 3.86
-5.74 3.66
-5.66 3.24
-5.62 3.76
-5.44 3.94
-5.46 3.46
-5.36 3.66
-5.24 4.14
-5.16 3.74
-5.06 3.44
-5.04 4.26
-4.92 3.84
-4.86 3.52
-4.74 4.24
-4.66 3.72
-4.62 4.62
-4.54 4.04
-4.36 4.22
-4.26 4.54
-4.12 4.14
-4.14 4.86
-3.94 4.82
-3.86 3.54
-3.74 4.62
-3.64 4.94
-3.62 3.34
-3.56 5.14
-3.44 4.84
-3.42 3.44
-3.36 5.24
-3.24 4.44
-3.24 5.26
-3.16 3.06
-3.14 4.72
-3.04 5.12
-2.94 3.66
-2.94 5.34
-2.86 4.96
-2.66 3.46
-2.64 4.84
-2.62 5.22
-2.44 4.62
-2.36 3.74
-2.24 4.92
-2.04 4.42
-1.84 4.72
-1.62 4.66
-1.42 4.72
-1.22 4.52
-1.04 4.62
-0.84 4.72
-0.62 4.62
-0.44 4.92
-0.24 4.62
-0.22 4.84
-0.06 4.62
-0.04 4.84
0.04 4.52
0.22 4.52
0.24 4.26
0.44 4.16
0.62 4.14
-6.7 -4.4
-6.7 -4.1
2.7 -5.5
2.8 3.0
3.0 -0.1
5.0 -4.7
4.6 -3.6
-4.5 0.7
}\tabNc

% ---- violin outlines: y value and half width in x units
\pgfplotstableread{
y w
0 -.002
0 .175
1 .19
3 .19
5 .14
10 .11
18 .055
26 .03
35 .018
45 .01
60 .006
100 .004
172 .002
173 -.002
}\vDaN
\pgfplotstableread{
y w
0 -.002
0 .42
.5 .45
1 .39
3 .24
5 .2
8 .15
12 .1
18 .048
30 .015
45 .004
188 .002
189 -.002
}\vDaT
\pgfplotstableread{
y w
0 -.002
0 .2
1.5 .21
3 .2
5 .17
11 .11
22 .056
31 .029
40 .01
47 .004
190 .002
191 -.002
}\vDbN
\pgfplotstableread{
y w
0 -.002
0 .42
.5 .455
1.5 .37
3 .24
5 .2
8.5 .12
15 .067
22 .035
31 .016
40 .01
52 .003
178 .002
179 -.002
}\vDbT
\pgfplotstableread{
y w
0 -.002
0 .40
1 .45
2 .41
4 .23
8.5 .126
15 .063
25 .027
47 .018
68 .009
85 .004
450 .002
451 -.002
}\vDcN
\pgfplotstableread{
y w
0 -.002
0 .36
1 .41
2.5 .377
6 .215
12 .108
16 .045
20 .018
24.5 .057
30 .014
38 .009
47 .057
54 .005
70 .003
147 .003
152 .029
155 -.002
}\vDcT
\pgfplotstableread{
y w
0 -.002
0 .16
.4 .167
1 .136
2 .094
3 .072
5 .043
7.3 .031
9.5 .014
13 .007
19.5 .003
32.7 .002
32.8 -.002
}\vEaN
\pgfplotstableread{
y w
0 -.002
0 .43
.2 .45
.8 .136
2 .10
3.4 .06
5.6 .037
7.3 .014
11 .003
48.5 .002
48.6 -.002
}\vEaT
\pgfplotstableread{
y w
0 -.002
0 .10
.5 .097
1 .078
2 .059
4 .034
6 .025
8 .016
10 .009
13 .005
25.3 .002
25.4 -.002
}\vEbN
\pgfplotstableread{
y w
0 -.002
0 .45
.3 .31
.6 .063
1.3 .05
3 .034
4.5 .022
6.6 .009
9 .003
31.7 .002
31.8 -.002
}\vEbT
\pgfplotstableread{
y w
0 -.002
0 .24
.5 .29
1.4 .303
2.2 .255
4 .17
6 .11
8 .077
12 .051
17 .034
25 .014
35 .004
80 .002
80.4 -.002
}\vEcN
\pgfplotstableread{
y w
0 -.002
0 .41
.4 .45
.8 .34
1.5 .30
3 .27
4 .26
5.4 .187
7 .077
8.4 .02
10 .005
11.4 .02
12.4 .04
12.7 -.002
}\vEcT
\pgfplotstableread{
y w
0 -.002
0 .14
.1 .14
.25 .12
.5 .088
.75 .061
1 .039
1.5 .014
2 .005
3 .003
13.2 .002
13.3 -.002
}\vFaN
\pgfplotstableread{
y w
0 -.002
0 .45
.2 .158
.35 .044
.6 .035
.8 .032
1 .023
1.5 .01
2.5 .003
16 .002
16.1 -.002
}\vFaT
\pgfplotstableread{
y w
0 -.002
0 .45
.3 .31
.6 .031
1 .016
1.5 .019
2 .025
2.3 .012
3 -.002
}\vFbN
\pgfplotstableread{
y w
0 -.002
0 .275
.3 .187
.7 .062
1 .031
2 .012
3.4 .002
44 .002
44.1 -.002
}\vFbT
\pgfplotstableread{
y w
0 -.002
0 .45
.1 .26
.2 .14
.35 .026
.7 .03
.9 .03
1.2 .018
1.6 .009
2.5 .004
4 .002
12.7 .002
12.8 -.002
}\vFcN
\pgfplotstableread{
y w
0 -.002
0 .233
.1 .22
.3 .15
.5 .08
.7 .05
1 .021
1.5 .009
2 .004
2.5 .007
2.8 -.002
}\vFcT

% dot plot sizes: r is the dot radius in pt
\pgfplotstableread{
x y r
1 1 2.75
2 1 2.25
3 1 1.93
4 1 1.7
5 1 1.48
6 2 2.13
7 2 1.81
8 2 1.7
9 2 1.59
10 2 1.38
11 3 4.13
12 3 2.94
13 3 1.93
14 3 2.04
15 3 1.7
}\dotsBig
\pgfplotstableread{
x y r
6 1 .4
7 1 .45
8 1 .35
9 1 .35
10 1 .35
11 1 .75
12 1 .6
13 1 .4
14 1 .45
15 1 .35
1 2 .45
2 2 .4
3 2 .35
4 2 .35
5 2 .4
11 2 .35
12 2 .4
13 2 .3
14 2 .3
15 2 .35
1 3 .4
2 3 .4
3 3 .4
4 3 .4
5 3 .4
6 3 .4
7 3 .4
8 3 .5
9 3 .4
10 3 .4
}\dotsSmall
\pgfplotstableread{
x y r
1 10 1.4
1 20 2.5
1 30 3.4
}\dotsKey

% ---- placing by pixel of the 2808x3740 reference, 1px = 0.25pt
\pgfplotsset{
  place/.code n args={4}{%
    \pgfmathsetmacro\plW{(#2-#1)*0.25}\pgfmathsetmacro\plH{(#4-#3)*0.25}%
    \pgfmathsetmacro\plX{#1*0.25}\pgfmathsetmacro\plY{(3740-#4)*0.25}%
    \pgfplotsset{at={(\plX pt,\plY pt)},anchor=south west,scale only axis,width=\plW pt,height=\plH pt}},
  legend image code/.code={\fill[#1] (0pt,0pt) circle (2.25pt);},
  boxplot/draw direction=y,
  boxplot/every box/.style={draw=darkbox,fill=white,line width=.7pt},
  boxplot/every median/.style={draw=darkbox,line width=1.1pt},
  boxplot/every whisker/.style={draw=darkbox,line width=.7pt},
  umap/.style n args={4}{place={#1}{#2}{#3}{#4},
    xmin=-7.5,xmax=7.88,ymin=-9.49,ymax=8.38,
    tick align=outside,xtick pos=lower,ytick pos=left,
    major tick length=.9pt,minor tick length=0pt,
    tick style={tickgrey,line width=.4pt},
    xtick={-4,0,4},xticklabels={−4,0,4},
    minor xtick={-6,-2,2,6},minor ytick={-7.5,-2.5,2.5,7.5},
    grid=both,major grid style={gridc,line width=.7pt},minor grid style={gridc,line width=.35pt},
    axis line style={black!80,line width=.4pt},
    legend columns=3,
    legend cell align=left,
    legend style={draw=none,fill=none,inner sep=0pt,nodes={inner sep=0pt},font=\tms\bfseries\fs{9.1},
      /tikz/every odd column/.append style={column sep=6pt},
      /tikz/every even column/.append style={column sep=6.75pt}},
    xticklabel style={font=\tms\bfseries\fs{11.25},text=tickgrey},
    yticklabel style={font=\tms\bfseries\fs{10},text=tickgrey,inner sep=1.2pt}},
  pts/.style={only marks,mark=*,forget plot,mark size=#1,mark options={draw=none}},
  vio/.style n args={6}{place={#1}{#2}{#3}{#4},
    ymin=#5,ymax=#6,xmin=.4,xmax=2.6,xtick={1,2},xticklabels={Normal,Tumor},
    axis background/.style={fill=panelc},
    axis line style={draw=none},
    tick align=outside,xtick pos=lower,ytick pos=left,
    major tick length=1.3pt,tick style={black,line width=.6pt},
    /pgf/number format/assume math mode=true,/pgf/number format/1000 sep={},
    yticklabel style={font=\bfseries\fs{7},inner sep=1.6pt},
    xticklabel style={font=\bfseries\fs{6},rotate=45,anchor=north east,inner sep=1pt,xshift=1.5pt}},
  vline/.style={black,line width=.65pt,smooth,tension=.3,line join=round},
  outl/.style={only marks,mark=*,black,mark size=1.4pt,mark options={draw=none,fill=black}},
  sizedots/.style={scatter,only marks,mark=*,
    scatter/use mapped color={draw=#1,fill=#1},mark options={line width=0pt},
    visualization depends on={\thisrow{r}\as\rr},
    scatter/@pre marker code/.append style={/tikz/mark size=\rr pt}}
}
\newcommand\violin[8]{%
  \addplot[vline,fill=#2] table[x expr=#1-\thisrow{w},y=y]{#3};
  \addplot[vline,fill=#2] table[x expr=#1+\thisrow{w},y=y]{#3};
  \addplot[outl] coordinates {#8};
  \addplot[boxplot prepared={draw position=#1,lower whisker=0,lower quartile=#4,median=#5,upper quartile=#6,upper whisker=#7,box extend=.1,whisker extend=.1}] coordinates {};
}
\newcommand\sig[3]{\node[font=\fs{5.2}] at (axis cs:#1,#2) {#3};}
\newcommand\lbl[4][]{\node[#1] at ({#2*0.25pt},{(3740-#3)*0.25pt}) {#4};}
\newcommand\strip[5]{%
  \fill[stripc] ({#1*0.25pt},{(3740-#3)*0.25pt}) rectangle ({#2*0.25pt},{(3740-#4)*0.25pt});
  \node[font=\fs{5}] at ({(#1+#2)*0.125pt},{(3740-(#3+#4)/2)*0.25pt}) {#5};}
\newcommand\letter[3]{\node[anchor=base west,inner sep=0pt,font=\fs{16.5}] at ({#1*0.25pt},{(3740-#2)*0.25pt}) {#3};}

\begin{document}
\begin{tikzpicture}
\path[use as bounding box] (0pt,0pt) rectangle (702pt,935pt);
\letter{2}{47}{a}
\letter{1105}{47}{b}
\letter{22}{1115}{c}
\letter{1441}{1114}{d}
\letter{15}{2457}{e}
\letter{1441}{2457}{f}

% ---- a
\lbl[anchor=west,inner sep=0pt,font=\fs{7.5}]{226}{90}{UMAP}
\begin{axis}[umap={226}{1078}{213}{938.5},ytick={-5,0,5},yticklabels={−5,0,5},
  legend style={at={(.223,1.078)},anchor=west}]
\addlegendimage{fill=umB}\addlegendentry{MSC1}
\addlegendimage{fill=umY}\addlegendentry{MSC2}
\addlegendimage{fill=umR}\addlegendentry{MSC3}
\addplot[pts=.72pt,color=umB] table[x=x,y=y]{\tabTa};
\addplot[pts=.72pt,color=umB] table[x=x,y=y]{\tabNa};
\addplot[pts=.72pt,color=umY] table[x=x,y=y]{\tabTb};
\addplot[pts=.72pt,color=umY] table[x=x,y=y]{\tabNb};
\addplot[pts=.72pt,color=umR] table[x=x,y=y]{\tabTc};
\addplot[pts=.72pt,color=umR] table[x=x,y=y]{\tabNc};
\end{axis}
\lbl[rotate=90,font=\tms\bfseries\fs{11.3}]{131}{575}{UMAP2}
\lbl[font=\tms\bfseries\fs{11.3}]{652}{1016}{UMAP1}

% ---- b
\lbl[anchor=west,inner sep=0pt,font=\fs{7.5}]{1267.5}{84}{UMAP}
\begin{axis}[umap={1267.5}{2028.5}{267.8}{933},ytick={-5,0,5},yticklabels={−5,0,5},
  yticklabel style={font=\tms\bfseries\fs{8.5}},
  legend style={at={(.70,1.178)},anchor=west}]
\addlegendimage{fill=umB}\addlegendentry{MSC1}
\addlegendimage{fill=umY}\addlegendentry{MSC2}
\addlegendimage{fill=umR}\addlegendentry{MSC3}
\addplot[pts=.6pt,color=umB] table[x=x,y=y]{\tabNa};
\addplot[pts=.6pt,color=umY] table[x=x,y=y]{\tabNb};
\addplot[pts=.6pt,color=umR] table[x=x,y=y]{\tabNc};
\end{axis}
\begin{axis}[umap={2042.5}{2805}{267.8}{933},ytick={-5,0,5},yticklabels={},major tick length=0pt]
\addplot[pts=.6pt,color=umB] table[x=x,y=y]{\tabTa};
\addplot[pts=.6pt,color=umY] table[x=x,y=y]{\tabTb};
\addplot[pts=.6pt,color=umR] table[x=x,y=y]{\tabTc};
\end{axis}
\foreach \l/\r/\t in {1267.5/2028.5/Normal,2042.5/2805/Tumor}{
  \filldraw[fill=stripc,draw=black!80,line width=.4pt] ({\l*0.25pt},{(3740-207.6)*0.25pt}) rectangle ({\r*0.25pt},{(3740-267.8)*0.25pt});
  \node[font=\tms\fs{11.6}] at ({(\l+\r)*0.125pt},{(3740-238)*0.25pt}) {\t};
}
\lbl[rotate=90,font=\tms\bfseries\fs{11.3}]{1184.6}{600}{UMAP2}
\lbl[font=\tms\bfseries\fs{11.3}]{2035}{1011}{UMAP1}

% ---- c
\begin{axis}[place={205.6}{1070}{1301.8}{2050},
  xmin=.41,xmax=15.63,ymin=.398,ymax=3.604,
  axis x line=bottom,axis y line=left,
  x axis line style={-},y axis line style={-},
  axis line style={black,line width=.6pt},
  tick align=outside,major tick length=1.5pt,tick style={black,line width=.5pt},
  xtick={1,...,15},xticklabels={COMP,COL8A1,CILP,PLPP4,COL11A1,MYOCD,PI15,AVPR1A,SRL,RERGL,AC022509.2,IL1B,AC022509.1,LINC02539,CRABP1},
  ytick={1,2,3},yticklabels={MSC1,MSC2,MSC3},
  yticklabel style={font=\fs{7.1},inner sep=1.2pt},
  xticklabel style={font=\fs{7.1},rotate=45,anchor=north east,inner sep=1pt,xshift=1.5pt}]
\addplot[sizedots=dotgrey] table[x=x,y=y]{\dotsSmall};
\addplot[sizedots=vioB] table[x=x,y=y]{\dotsBig};
\end{axis}
\lbl[rotate=90,font=\fs{8}]{86}{1676}{Subtype}
\lbl[anchor=west,inner sep=0pt,font=\fs{8.1}]{1101}{1486}{Average Expression}
\lbl[anchor=west,inner sep=0pt,font=\fs{8.1}]{1101}{1747}{Percent Expressed}
\begin{axis}[place={1101}{1138}{1515}{1696},
  xmin=0,xmax=1,ymin=-.658,ymax=1.174,
  colormap={avg}{rgb255(0cm)=(211,211,211) rgb255(3.4cm)=(178,160,206) rgb255(6.1cm)=(105,90,165) rgb255(8.8cm)=(55,75,160) rgb255(10cm)=(30,80,165)},
  axis line style={draw=none},xtick=\empty,
  ytick={-.5,0,.5,1},yticklabels={−0.5,0.0,0.5,1.0},
  ytick pos=both,yticklabel pos=right,tick align=inside,major tick length=1.8pt,
  tick style={white,line width=.3pt},
  yticklabel style={font=\fs{7},inner sep=3.5pt}]
\addplot[patch,patch type=rectangle,shader=interp,point meta=y] coordinates {(0,-.658)(1,-.658)(1,1.174)(0,1.174)};
\end{axis}
\begin{axis}[place={1101}{1138}{1780}{1880},
  xmin=0,xmax=2,ymin=6.15,ymax=33.66,y dir=reverse,
  axis line style={draw=none},xtick=\empty,
  ytick={10,20,30},yticklabel pos=right,major tick length=0pt,
  yticklabel style={font=\fs{7},inner sep=3.5pt},
  /pgf/number format/assume math mode=true]
\addplot[sizedots=black] table[x=x,y=y]{\dotsKey};
\end{axis}

% ---- d
\strip{1576}{2153.5}{1126.4}{1166.7}{MSC1}
\begin{axis}[vio={1576}{2153.5}{1166.7}{1651.5}{-9.3}{198.7},ytick={0,50,100,150}]
\violin{1}{vioB}{\vDaN}{0}{5}{17}{41}{(1,172.5)(1,98)(1,89)(1,88)(1,78)(1,74)(1,68)(1,62)(1,53)(1,48)(1,44)(1,0)}
\violin{2}{vioR}{\vDaT}{0}{4}{11}{27}{(2,188.5)(2,144)(2,141)(2,135)(2,128)(2,125)(2,122)(2,118)(2,114)(2,110)(2,106)(2,102)(2,98)(2,94)(2,90)(2,86)(2,82)(2,78)(2,74)(2,70)(2,66)(2,62)(2,58)(2,54)(2,50)(2,46)(2,42)(2,38)(2,34)(2,30)(2,0)}
\sig{1.41}{194}{*}
\end{axis}
\strip{2225.5}{2802.5}{1127}{1166}{MSC2}
\begin{axis}[vio={2225.5}{2802.5}{1166}{1651.6}{-9.6}{201},ytick={0,50,100,150,200}]
\violin{1}{vioB}{\vDbN}{0}{7}{16.5}{39.5}{(1,191)(1,147.5)(1,70)(1,66)(1,62)(1,58)(1,0)}
\violin{2}{vioR}{\vDbT}{0}{3.5}{12.5}{30.5}{(2,178.5)(2,148)(2,142)(2,141)(2,132)(2,130)(2,127)(2,125)(2,122)(2,121)(2,108)(2,104)(2,94)(2,92)(2,90)(2,88)(2,86)(2,78)(2,75)(2,72)(2,69)(2,66)(2,63)(2,60)(2,57)(2,54)(2,51)(2,48)(2,45)(2,42)(2,39)(2,36)(2,33)(2,0)}
\sig{1.409}{196}{*}
\end{axis}
\strip{1576.4}{2153.5}{1749}{1788.9}{MSC3}
\begin{axis}[vio={1576.4}{2153.5}{1788.9}{2274}{-22}{474},ytick={0,100,200,300,400}]
\violin{1}{vioB}{\vDcN}{0}{3}{14}{35}{(1,451)(1,190)(1,185)(1,180)(1,176)(1,152)(1,135)(1,132)(1,120)(1,115)(1,110)(1,105)(1,100)(1,95)(1,90)(1,85)(1,80)(1,75)(1,70)(1,65)(1,60)(1,55)(1,50)(1,45)(1,40)(1,0)}
\violin{2}{vioR}{\vDcT}{0}{3}{9}{22.5}{(2,155)(2,0)}
\sig{1.424}{457}{ns}
\end{axis}
\lbl[rotate=90,font=\bfseries\fs{9.3}]{1490}{1722}{JUN expression}

% ---- e
\strip{163.8}{756.5}{2510}{2550}{MSC1}
\begin{axis}[vio={163.8}{756.5}{2550}{3034.8}{-2.4}{51.1},ytick={0,10,20,30,40,50}]
\violin{1}{vioB}{\vEaN}{0}{1.1}{4.2}{10.5}{(1,32.7)(1,28.5)(1,24.7)(1,24.3)(1,17.6)(1,16.2)(1,15.2)(1,14)(1,13)(1,12)(1,11)(1,10)(1,9.5)(1,0)}
\violin{2}{vioR}{\vEaT}{0}{.95}{2.9}{7.2}{(2,48.6)(2,47.5)(2,47.2)(2,38)(2,34.5)(2,33.2)(2,30.5)(2,28.5)(2,27.7)(2,25.8)(2,25)(2,24.3)(2,23.6)(2,22.9)(2,22.2)(2,21.5)(2,20.8)(2,20.1)(2,19.4)(2,18.7)(2,18)(2,17.3)(2,16.6)(2,15.9)(2,15.2)(2,14.5)(2,13.8)(2,13.1)(2,12.4)(2,11.7)(2,11)(2,10.3)(2,9.6)(2,8.9)(2,8.2)(2,7.5)(2,0)}
\sig{1.424}{49.3}{ns}
\end{axis}
\strip{813}{1405}{2509.8}{2549.4}{MSC2}
\begin{axis}[vio={813}{1405}{2549.4}{3035}{-1.6}{33.4},ytick={0,10,20,30}]
\violin{1}{vioB}{\vEbN}{0}{1.5}{4.6}{10.8}{(1,25.4)(1,23.3)(1,17.2)(1,14.9)(1,14.6)(1,12.7)(1,10)(1,9.5)(1,9)(1,8.5)(1,8)(1,0)}
\violin{2}{vioR}{\vEbT}{0}{0}{2}{5}{(2,31.8)(2,29.9)(2,28.6)(2,21.3)(2,19.9)(2,19.6)(2,18.2)(2,18)(2,17.2)(2,16.3)(2,15.4)(2,15)(2,14.5)(2,14)(2,13.5)(2,13)(2,12.5)(2,12)(2,11.5)(2,11)(2,10.5)(2,10)(2,9.5)(2,9)(2,8.5)(2,8)(2,7.5)(2,7)(2,6.5)(2,6)(2,5.5)(2,0)}
\sig{1.427}{32.3}{***}
\end{axis}
\strip{163.8}{756.5}{3132}{3172.7}{MSC3}
\begin{axis}[vio={163.8}{756.5}{3172.7}{3657}{-3.9}{84.5},ytick={0,20,40,60,80}]
\violin{1}{vioB}{\vEcN}{1.4}{3.5}{9.3}{21.5}{(1,80.4)(1,62.8)(1,53.8)(1,51)(1,48.3)(1,46.7)(1,42.7)(1,40)(1,39)(1,38)(1,37)(1,36)(1,35)(1,34)(1,33)(1,32)(1,31)(1,30)(1,29)(1,28)(1,27)(1,26)(1,25)(1,24)(1,23)(1,22)(1,0)}
\violin{2}{vioR}{\vEcT}{0}{1.9}{3.5}{7}{(2,12.8)(2,0)}
\sig{1.417}{82.2}{**}
\end{axis}
\lbl[rotate=90,font=\bfseries\fs{9.3}]{93}{3104}{NFKB1 expression}

% ---- f
\strip{1559.4}{2152.6}{2509.8}{2549.4}{MSC1}
\begin{axis}[vio={1559.4}{2152.6}{2549.4}{3035}{-.82}{16.9},ytick={0,5,10,15}]
\violin{1}{vioB}{\vFaN}{0}{0}{0}{0}{(1,13.3)(1,7.4)(1,6.9)(1,5.8)(1,3.1)(1,0)}
\violin{2}{vioR}{\vFaT}{0}{0}{0}{0}{(2,16.1)(2,15.4)(2,14.6)(2,13.8)(2,13.6)(2,12.9)(2,12.6)(2,12.2)(2,10.2)(2,9.5)(2,9)(2,8.9)(2,8.7)(2,8.5)(2,8.3)(2,8.1)(2,7.9)(2,7.7)(2,7.5)(2,7)(2,6.9)(2,6.7)(2,6.5)(2,6.2)(2,6)(2,5.8)(2,5.6)(2,5.4)(2,5.2)(2,5)(2,4.8)(2,4.6)(2,4.4)(2,4.2)(2,4)(2,3.8)(2,3.6)(2,3.4)(2,3.2)(2,3)(2,2.8)(2,2.6)(2,0)}
\sig{1.424}{16.3}{ns}
\end{axis}
\strip{2208.7}{2801}{2509.8}{2549.4}{MSC2}
\begin{axis}[vio={2208.7}{2801}{2549.4}{3035}{-2.2}{46.1},ytick={0,10,20,30,40}]
\violin{1}{vioB}{\vFbN}{0}{0}{0}{0}{(1,2.9)(1,2.3)(1,2)(1,1.7)(1,0)}
\violin{2}{vioR}{\vFbT}{0}{0}{0}{0}{(2,44)(2,15.9)(2,14.7)(2,12.5)(2,11.5)(2,10.8)(2,10.3)(2,9.9)(2,8.8)(2,8.5)(2,8)(2,7.5)(2,7)(2,6.6)(2,6.2)(2,5.8)(2,5.4)(2,5)(2,4.6)(2,4.2)(2,3.8)(2,3.4)(2,3)(2,2.6)(2,2.2)(2,1.8)(2,0)}
\sig{1.425}{44.5}{ns}
\end{axis}
\strip{1559.4}{2152.6}{3132}{3172.7}{MSC3}
\begin{axis}[vio={1559.4}{2152.6}{3172.7}{3657}{-.62}{13.3},ytick={0,5,10}]
\violin{1}{vioB}{\vFcN}{0}{0}{0}{0}{(1,12.7)(1,8.4)(1,4.1)(1,3.9)(1,3.6)(1,3.4)(1,3.2)(1,3)(1,2.8)(1,2.6)(1,2.4)(1,2.2)(1,2)(1,1.8)(1,0)}
\violin{2}{vioR}{\vFcT}{0}{0}{0}{0}{(2,2.8)(2,0)}
\sig{1.424}{12.85}{ns}
\end{axis}
\lbl[rotate=90,font=\bfseries\fs{9.3}]{1490}{3104}{SP1 expression}
\end{tikzpicture}
\end{document}
